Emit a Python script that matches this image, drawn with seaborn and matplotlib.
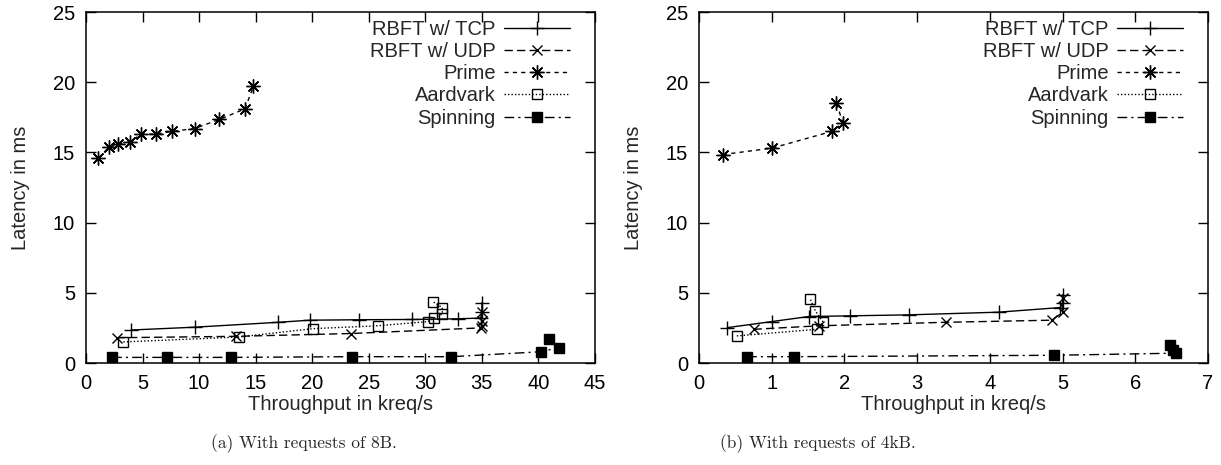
import matplotlib
matplotlib.use("Agg")
import matplotlib.pyplot as plt
import seaborn as sns
import pandas as pd

# ---------------- data ----------------
series_names = ["RBFT w/ TCP", "RBFT w/ UDP", "Prime", "Aardvark", "Spinning"]

# (a) requests of 8B
a_tcp_x = [4.0, 9.6, 17.0, 19.8, 24.1, 28.8, 32.9, 34.9, 35.0, 35.0]
a_tcp_y = [2.35, 2.55, 2.9, 3.05, 3.08, 3.1, 3.15, 3.2, 3.6, 4.3]
a_udp_x = [2.7, 13.3, 23.4, 34.9, 35.0, 35.0, 35.0]
a_udp_y = [1.8, 1.9, 2.1, 2.5, 2.65, 3.0, 3.65]
a_prime_x = [1.1, 2.0, 2.85, 3.85, 4.9, 6.15, 7.6, 9.6, 11.8, 14.05, 14.8]
a_prime_y = [14.6, 15.35, 15.6, 15.75, 16.3, 16.3, 16.5, 16.7, 17.35, 18.1, 19.7]
a_aard_x = [3.3, 13.5, 20.1, 25.8, 30.2, 30.8, 31.5, 31.5, 30.7]
a_aard_y = [1.5, 1.85, 2.45, 2.65, 2.95, 3.2, 3.5, 3.95, 4.35]
a_spin_x = [2.3, 7.2, 12.8, 23.5, 32.3, 40.2, 41.8, 40.9]
a_spin_y = [0.4, 0.4, 0.4, 0.45, 0.45, 0.8, 1.1, 1.7]

# (b) requests of 4kB
b_tcp_x = [0.39, 1.0, 1.51, 2.08, 2.89, 4.12, 4.97, 5.0, 5.0]
b_tcp_y = [2.52, 2.95, 3.31, 3.36, 3.43, 3.62, 3.95, 4.3, 4.85]
b_udp_x = [0.75, 1.65, 3.4, 4.85, 5.0, 5.0]
b_udp_y = [2.4, 2.65, 2.9, 3.05, 3.6, 4.6]
b_prime_x = [0.33, 1.0, 1.83, 1.98, 1.89]
b_prime_y = [14.85, 15.3, 16.5, 17.1, 18.5]
b_aard_x = [0.52, 1.62, 1.71, 1.6, 1.53]
b_aard_y = [1.93, 2.4, 2.9, 3.71, 4.57]
b_spin_x = [0.66, 1.3, 4.88, 6.56, 6.52, 6.48]
b_spin_y = [0.45, 0.45, 0.55, 0.7, 0.95, 1.3]

x_ticks_a = [0, 5, 10, 15, 20, 25, 30, 35, 40, 45]
x_ticks_b = [0, 1, 2, 3, 4, 5, 6, 7]
y_ticks = [0, 5, 10, 15, 20, 25]

captions = ["(a) With requests of 8B.", "(b) With requests of 4kB."]
xlabel = "Throughput in kreq/s"
ylabel = "Latency in ms"

panels = [
    [(a_tcp_x, a_tcp_y), (a_udp_x, a_udp_y), (a_prime_x, a_prime_y),
     (a_aard_x, a_aard_y), (a_spin_x, a_spin_y)],
    [(b_tcp_x, b_tcp_y), (b_udp_x, b_udp_y), (b_prime_x, b_prime_y),
     (b_aard_x, b_aard_y), (b_spin_x, b_spin_y)],
]

# ---------------- styles ----------------
styles = [
    dict(linestyle="-", marker="+", markersize=10, mew=1.0, mfc="black"),
    dict(linestyle=(0, (6, 3)), marker="x", markersize=7.5, mew=1.0, mfc="black"),
    dict(linestyle=(0, (3, 3)), marker=(8, 2, 0), markersize=10, mew=1.0, mfc="black"),
    dict(linestyle=(0, (1, 1.5)), marker="s", markersize=7.5, mew=1.0, mfc="none"),
    dict(linestyle=(0, (7, 3, 1.5, 3)), marker="s", markersize=7.5, mew=1.0, mfc="black"),
]

sns.set_style("ticks")
plt.rcParams["font.family"] = ["Liberation Sans", "DejaVu Sans"]

W, H = 1221, 465
fig = plt.figure(figsize=(W / 100, H / 100), dpi=100)

ax_left_px = [86, 699]
ax_w_px = 509
ax_top_px, ax_bot_px = 12, 363

fs = 14.5

for i, (series, xt, xmax) in enumerate(zip(panels, [x_ticks_a, x_ticks_b], [45, 7])):
    ax = fig.add_axes([ax_left_px[i] / W, 1 - ax_bot_px / H,
                       ax_w_px / W, (ax_bot_px - ax_top_px) / H])
    for name, (xs, ys), st in zip(series_names, series, styles):
        df = pd.DataFrame({"x": xs, "y": ys})
        sns.lineplot(data=df, x="x", y="y", ax=ax, sort=False, estimator=None,
                     color="black", linewidth=1.0, mec="black", label=name, **st)
    ax.set_xlim(0, xmax)
    ax.set_ylim(0, 25)
    ax.set_xticks(xt)
    ax.set_yticks(y_ticks)
    ax.tick_params(direction="in", length=7, width=1.0, top=True, right=True,
                   labelsize=fs, pad=8, colors="black")
    for sp in ax.spines.values():
        sp.set_linewidth(1.1)
        sp.set_color("black")
    ax.set_xlabel(xlabel, fontsize=fs, labelpad=1.5)
    ax.set_ylabel(ylabel, fontsize=fs, labelpad=16)
    leg = ax.legend(loc="upper right", bbox_to_anchor=(0.951, 0.978), frameon=False,
                    markerfirst=False, alignment="right", fontsize=fs,
                    handlelength=3.3, handletextpad=0.4, labelspacing=0.16,
                    borderpad=0.0, borderaxespad=0.0, numpoints=1)

caption_x = [304, 818]
for cx, cap in zip(caption_x, captions):
    fig.text(cx / W, 1 - 444 / H, cap, ha="center", va="center",
             fontsize=12.5, family=["cmr10", "DejaVu Serif"])

fig.savefig("out.png", dpi=100)
